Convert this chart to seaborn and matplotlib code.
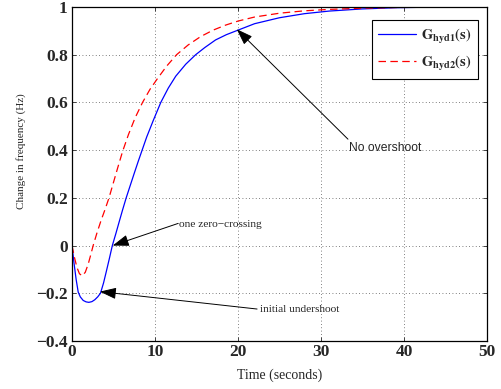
import matplotlib
matplotlib.use('Agg')
import matplotlib.pyplot as plt
import seaborn as sns
import pandas as pd

# step responses (time in s, change in Hz)
blue_t = [0, 0.25, 0.5, 0.75, 1.0, 1.35, 1.7, 2.03, 2.4, 2.75, 3.1, 3.43, 3.8, 4.14,
          4.5, 4.86, 5.3, 5.73, 6.1, 6.53, 7.0, 7.5, 8.0, 8.45, 9.0, 9.8, 10.7, 11.6,
          12.5, 13.7, 14.9, 16.0, 17.3, 18.6, 20.0, 22.0, 25.0, 28.0, 31.0, 35.0, 39.0, 42.5]
blue_y = [0, -0.075, -0.142, -0.195, -0.215, -0.23, -0.236, -0.238, -0.235, -0.227, -0.215,
          -0.2, -0.157, -0.108, -0.055, 0, 0.052, 0.105, 0.15, 0.2, 0.25, 0.303, 0.355, 0.4,
          0.455, 0.525, 0.6, 0.66, 0.71, 0.76, 0.8, 0.83, 0.862, 0.884, 0.903, 0.93, 0.955,
          0.972, 0.983, 0.992, 0.997, 0.999]

red_t = [0, 0.3, 0.6, 0.9, 1.23, 1.6, 1.95, 2.25, 2.55, 3.0, 3.5, 4.0, 4.46, 5.0, 5.5,
         6.1, 6.8, 7.6, 8.5, 9.4, 10.3, 11.4, 12.6, 14.0, 15.5, 17.0, 18.5, 20.0, 22.0,
         25.0, 28.0, 31.0, 35.0, 39.0, 42.5]
red_y = [0, -0.05, -0.092, -0.118, -0.127, -0.112, -0.078, -0.04, 0, 0.052, 0.105, 0.153,
         0.2, 0.265, 0.325, 0.395, 0.465, 0.535, 0.6, 0.655, 0.7, 0.752, 0.8, 0.841, 0.876,
         0.903, 0.924, 0.941, 0.958, 0.974, 0.984, 0.99, 0.995, 0.998, 0.999]

x_ticks = [0, 10, 20, 30, 40, 50]
y_ticks = [-0.4, -0.2, 0, 0.2, 0.4, 0.6, 0.8, 1]
y_ticklabels = ['\u22120.4', '\u22120.2', '0', '0.2', '0.4', '0.6', '0.8', '1']

sns.set_style('ticks')
plt.rcParams['font.family'] = ['Liberation Serif', 'DejaVu Serif']
plt.rcParams['mathtext.fontset'] = 'stix'

df1 = pd.DataFrame({'t': blue_t, 'y': blue_y})
df2 = pd.DataFrame({'t': red_t, 'y': red_y})

fig = plt.figure(figsize=(5.02, 3.89), dpi=100)
ax = fig.add_axes([0.1434, 0.1234, 0.8267, 0.8586])

sns.lineplot(data=df1, x='t', y='y', ax=ax, color='#0000FF', lw=0.9,
             label=r'$\mathbf{G_{hyd1}(s)}$', sort=False)
sns.lineplot(data=df2, x='t', y='y', ax=ax, color='#FF0000', lw=0.9,
             dashes=False, label=r'$\mathbf{G_{hyd2}(s)}$', sort=False)
ax.lines[1].set_dashes([6, 3.5])

ax.set_xlim(0, 50)
ax.set_ylim(-0.4, 1)
ax.set_xticks(x_ticks)
ax.set_yticks(y_ticks)
ax.set_xticklabels([str(v) for v in x_ticks], fontsize=12.5, fontweight='bold')
ax.set_yticklabels(y_ticklabels, fontsize=12.5, fontweight='bold')
ax.tick_params(direction='in', length=3, width=0.6, top=True, right=True, pad=3)
ax.tick_params(axis='x', pad=2)

for sp in ax.spines.values():
    sp.set_visible(True)
    sp.set_linewidth(0.9)
    sp.set_color('black')

ax.grid(True, color='#555555', linestyle=(0, (1, 3)), linewidth=0.6)

ax.set_xlabel('Time (seconds)', fontsize=10)
ax.set_ylabel('Change in frequency (Hz)', fontsize=8)
ax.xaxis.set_label_coords(0.5, -0.082)
ax.yaxis.set_label_coords(-0.11, 0.569)

leg = ax.legend(loc='upper right', bbox_to_anchor=(0.978, 0.961), borderaxespad=0,
                fancybox=False, framealpha=1, edgecolor='black', fontsize=10.5,
                handlelength=2.6, handletextpad=0.3, borderpad=0.45, labelspacing=0.55)
leg.get_frame().set_linewidth(0.8)

arrow = dict(arrowstyle='-|>,head_length=1.0,head_width=0.35', color='black',
             lw=0.7, shrinkA=0, shrinkB=0)

# No overshoot
ax.annotate('', xy=(19.85, 0.907), xytext=(33.25, 0.446), arrowprops=arrow)
ax.text(33.4, 0.41, 'No overshoot', fontsize=8.7, family='Liberation Sans',
        ha='left', va='center')

# one zero-crossing
ax.annotate('', xy=(4.9, 0.0), xytext=(12.8, 0.093), arrowprops=arrow)
ax.text(12.95, 0.09, 'one zero\u2212crossing', fontsize=8.2, ha='left', va='center')

# initial undershoot
ax.annotate('', xy=(3.36, -0.193), xytext=(22.3, -0.266), arrowprops=arrow)
ax.text(22.6, -0.27, 'initial undershoot', fontsize=8.2, ha='left', va='center')

fig.savefig('out.png', dpi=100)
